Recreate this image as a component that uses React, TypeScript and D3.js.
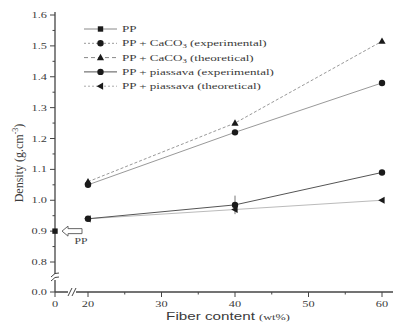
import { useRef, useEffect } from 'react'
import * as d3 from 'd3'

const fiber = [20, 40, 60]
const caco3Exp = [1.05, 1.22, 1.38]
const caco3Theo = [1.06, 1.25, 1.515]
const piasExp = [0.94, 0.985, 1.09]
const piasTheo = [0.94, 0.97, 1.0]
const piasErr = [0.005, 0.03, 0.005]
const ppValue = 0.9

const yTicks = [0.0, 0.8, 0.9, 1.0, 1.1, 1.2, 1.3, 1.4, 1.5, 1.6]
const yMinor = [0.85, 0.95, 1.05, 1.15, 1.25, 1.35, 1.45, 1.55]
const xTicks = [0, 20, 30, 40, 50, 60]
const xMinor = [25, 35, 45, 55]

const legendItems = [
  { label: 'PP', sub: '', rest: '', marker: 'square', stroke: '#888', dash: '' },
  { label: 'PP + CaCO', sub: '3', rest: ' (experimental)', marker: 'circle', stroke: '#999', dash: '2,2' },
  { label: 'PP + CaCO', sub: '3', rest: ' (theoretical)', marker: 'triangle', stroke: '#888', dash: '4,3' },
  { label: 'PP + piassava (experimental)', sub: '', rest: '', marker: 'circle', stroke: '#555', dash: '' },
  { label: 'PP + piassava (theoretical)', sub: '', rest: '', marker: 'left', stroke: '#aaa', dash: '2,2' },
]

// the source image is stretched sideways, so horizontal text is widened
const SX = 1.45

export default function App() {
  const svgRef = useRef<SVGSVGElement>(null)

  useEffect(() => {
    if (!svgRef.current) return
    const W = 398, H = 326
    const svg = d3.select(svgRef.current)
    svg.selectAll('*').remove()
    svg.attr('width', W).attr('height', H).attr('viewBox', `0 0 ${W} ${H}`)
    svg.append('rect').attr('width', W).attr('height', H).attr('fill', '#fff')

    const x = d3.scaleLinear().domain([0, 20, 60]).range([55, 88, 382])
    const y = d3.scaleLinear().domain([0, 0.8, 1.6]).range([292, 262, 15])
    const serif = 'Liberation Serif, Times New Roman, serif'
    const axisCol = '#444'
    const textCol = '#3a3a3a'

    // axes
    svg.append('line').attr('x1', 55).attr('x2', 55).attr('y1', 12).attr('y2', 292)
      .attr('stroke', axisCol).attr('stroke-width', 1.3)
    svg.append('line').attr('x1', 55).attr('x2', 393).attr('y1', 292).attr('y2', 292)
      .attr('stroke', axisCol).attr('stroke-width', 1.3)

    svg.selectAll('.ytick').data(yTicks).join('line')
      .attr('x1', 55).attr('x2', 50).attr('y1', d => y(d)).attr('y2', d => y(d))
      .attr('stroke', axisCol)
    svg.selectAll('.yminor').data(yMinor).join('line')
      .attr('x1', 55).attr('x2', 52.5).attr('y1', d => y(d)).attr('y2', d => y(d))
      .attr('stroke', axisCol)
    svg.selectAll('.ylab').data(yTicks).join('text')
      .attr('transform', d => `translate(47,${y(d) + 3}) scale(${SX},1)`)
      .attr('text-anchor', 'end').attr('font-size', 8.5).attr('font-family', serif)
      .attr('fill', textCol).text(d => d3.format('.1f')(d))

    svg.selectAll('.xtick').data(xTicks).join('line')
      .attr('x1', d => x(d)).attr('x2', d => x(d)).attr('y1', 292).attr('y2', 297)
      .attr('stroke', axisCol)
    svg.selectAll('.xminor').data(xMinor).join('line')
      .attr('x1', d => x(d)).attr('x2', d => x(d)).attr('y1', 292).attr('y2', 294.5)
      .attr('stroke', axisCol)
    svg.selectAll('.xlab').data(xTicks).join('text')
      .attr('transform', d => `translate(${x(d)},307) scale(${SX},1)`)
      .attr('text-anchor', 'middle').attr('font-size', 8.5).attr('font-family', serif)
      .attr('fill', textCol).text(d => d)

    // break marks
    const yb = svg.append('g').attr('transform', 'translate(55,277)')
    yb.append('rect').attr('x', -4).attr('y', -3).attr('width', 8).attr('height', 6).attr('fill', '#fff')
    for (const o of [-2, 2]) {
      yb.append('path').attr('d', `M-4,${o + 2} Q0,${o - 3} 4,${o - 2}`).attr('stroke', axisCol).attr('fill', 'none')
    }
    const xb = svg.append('g').attr('transform', 'translate(72,292)')
    xb.append('rect').attr('x', -4).attr('y', -3).attr('width', 8).attr('height', 6).attr('fill', '#fff')
    for (const o of [-2, 2]) {
      xb.append('line').attr('x1', o - 2).attr('y1', 4).attr('x2', o + 2).attr('y2', -4).attr('stroke', axisCol)
    }

    // axis titles
    svg.append('text').attr('transform', 'translate(23,163) rotate(-90)')
      .attr('text-anchor', 'middle').attr('font-size', 12).attr('font-family', serif).attr('fill', textCol)
      .call(t => {
        t.append('tspan').text('Density (g.cm')
        t.append('tspan').attr('font-size', 8).attr('dy', -5).text('-3')
        t.append('tspan').attr('dy', 5).text(')')
      })
    svg.append('text').attr('transform', `translate(228,320) scale(${SX},1)`).attr('text-anchor', 'middle')
      .attr('fill', textCol)
      .call(t => {
        t.append('tspan').attr('font-family', 'Liberation Sans, Arial, sans-serif').attr('font-size', 10.5).text('Fiber content ')
        t.append('tspan').attr('font-family', serif).attr('font-size', 8.5).text('(wt%)')
      })

    // marker drawing
    const drawMarker = (g: any, type: string, cx: number, cy: number, fill: string) => {
      if (type === 'square') g.append('rect').attr('x', cx - 2.7).attr('y', cy - 2.7).attr('width', 5.4).attr('height', 5.4).attr('fill', fill)
      else if (type === 'circle') g.append('circle').attr('cx', cx).attr('cy', cy).attr('r', 3.2).attr('fill', fill)
      else if (type === 'triangle') g.append('path').attr('d', `M${cx},${cy - 3.8} L${cx + 3.6},${cy + 2.6} L${cx - 3.6},${cy + 2.6}Z`).attr('fill', fill)
      else if (type === 'left') g.append('path').attr('d', `M${cx - 3.8},${cy} L${cx + 2.6},${cy - 3.6} L${cx + 2.6},${cy + 3.6}Z`).attr('fill', fill)
    }

    const series = [
      { vals: piasTheo, stroke: '#bbb', dash: '', marker: 'left' },
      { vals: piasExp, stroke: '#555', dash: '', marker: 'circle' },
      { vals: caco3Exp, stroke: '#999', dash: '', marker: 'circle' },
      { vals: caco3Theo, stroke: '#999', dash: '3,2', marker: 'triangle' },
    ]
    const line = d3.line<number>().x((_, i) => x(fiber[i])).y(d => y(d))
    series.forEach(s => {
      svg.append('path').attr('d', line(s.vals)).attr('fill', 'none')
        .attr('stroke', s.stroke).attr('stroke-width', 1).attr('stroke-dasharray', s.dash)
    })
    // error bars on piassava experimental
    svg.selectAll('.err').data(piasExp).join('line')
      .attr('x1', (_, i) => x(fiber[i])).attr('x2', (_, i) => x(fiber[i]))
      .attr('y1', (d, i) => y(d - piasErr[i])).attr('y2', (d, i) => y(d + piasErr[i]))
      .attr('stroke', '#777')
    const mg = svg.append('g')
    series.forEach(s => s.vals.forEach((v, i) => drawMarker(mg, s.marker, x(fiber[i]), y(v), '#1a1a1a')))

    // PP point and arrow
    drawMarker(mg, 'square', x(0), y(ppValue), '#1a1a1a')
    const ay = y(ppValue)
    const ax = x(0)
    svg.append('path')
      .attr('d', `M${ax + 7},${ay} L${ax + 13},${ay - 5} L${ax + 13},${ay - 2.5} L${ax + 27},${ay - 2.5} L${ax + 27},${ay + 2.5} L${ax + 13},${ay + 2.5} L${ax + 13},${ay + 5}Z`)
      .attr('fill', '#fff').attr('stroke', '#666')
    svg.append('text').attr('transform', `translate(${ax + 26},${ay + 13}) scale(${SX},1)`).attr('text-anchor', 'middle')
      .attr('font-size', 8).attr('font-family', serif).attr('fill', textCol).text('PP')

    // legend
    const lg = svg.append('g')
    legendItems.forEach((it, i) => {
      const ly = 29 + i * 14.3
      lg.append('line').attr('x1', 84).attr('x2', 117).attr('y1', ly).attr('y2', ly)
        .attr('stroke', it.stroke).attr('stroke-dasharray', it.dash)
      drawMarker(lg, it.marker, 100.5, ly, '#1a1a1a')
      const t = lg.append('text').attr('transform', `translate(122,${ly + 3}) scale(${SX},1)`)
        .attr('font-size', 9).attr('font-family', serif).attr('fill', textCol)
      t.append('tspan').text(it.label)
      if (it.sub) {
        t.append('tspan').attr('font-size', 6).attr('dy', 2).text(it.sub)
        t.append('tspan').attr('dy', -2).text(it.rest)
      }
    })
  }, [])

  return <svg ref={svgRef} style={{ position: 'absolute', left: 0, top: 0 }} />
}
